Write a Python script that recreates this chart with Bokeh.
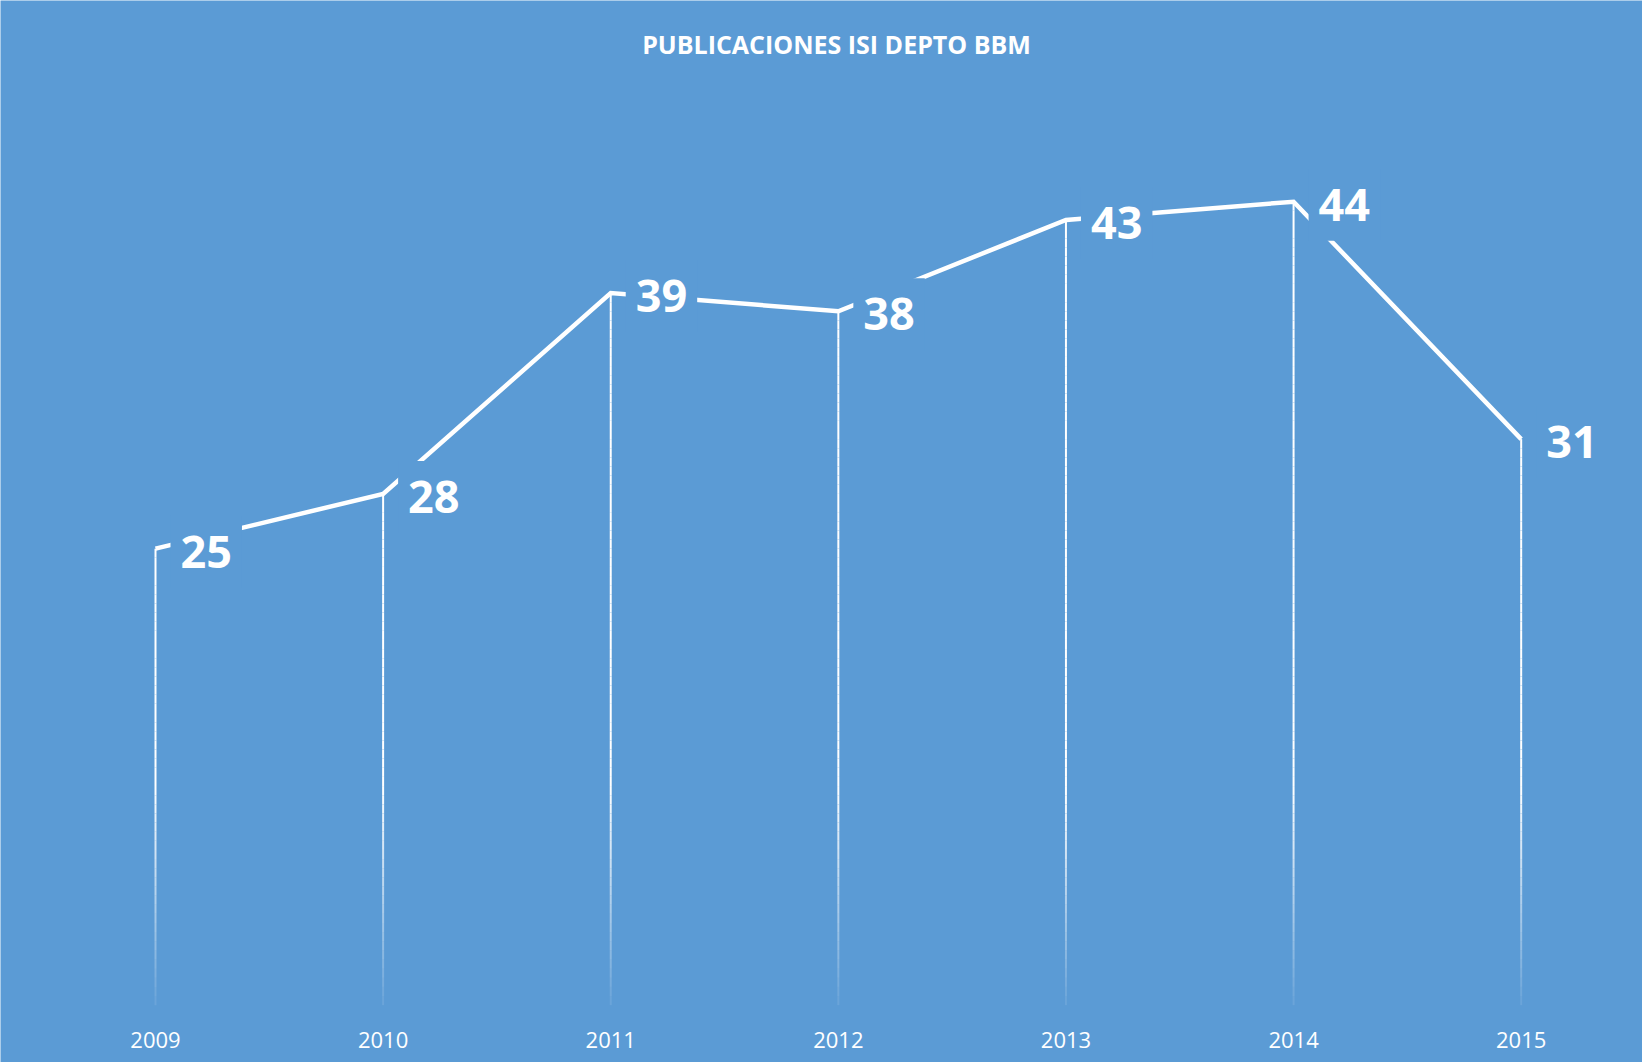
from bokeh.plotting import figure
from bokeh.models import Range1d, ColumnDataSource, Label
from bokeh.core.properties import value
from bokeh.embed import file_html
from bokeh.resources import INLINE

years = [2009, 2010, 2011, 2012, 2013, 2014, 2015]
publicaciones = [25, 28, 39, 38, 43, 44, 31]
year_labels = [str(y) for y in years]
title_text = "PUBLICACIONES ISI DEPTO BBM"

BG = "#5B9BD5"
W, H = 1642, 1062

p = figure(width=W, height=H, output_backend="svg", toolbar_location=None,
           x_range=Range1d(2008.319, 2015.533), y_range=Range1d(-3.14, 55.02),
           min_border_left=0, min_border_right=0, min_border_top=0,
           min_border_bottom=0)
p.background_fill_color = BG
p.border_fill_color = BG
p.outline_line_color = None
p.xgrid.grid_line_color = None
p.ygrid.grid_line_color = None
p.xaxis.visible = False
p.yaxis.visible = False

# category (year) labels along the bottom
p.text(x=years, y=[-1.92] * len(years), text=year_labels,
       text_font=value("Open Sans"), text_font_size="22px", text_color="white",
       text_align="center", text_baseline="middle")

# drop lines with fading toward the bottom
x0s, y0s, y1s, alphas = [], [], [], []
for yr, v in zip(years, publicaciones):
    step = 0.5
    lo = 0.0
    while lo < v:
        hi = min(v, lo + step)
        x0s.append(yr); y0s.append(lo); y1s.append(hi)
        alphas.append(max(0.08, min(1.0, 0.08 + ((lo + hi) / 2) / 13.0)))
        lo = hi
drop = ColumnDataSource(dict(x=x0s, y0=y0s, y1=y1s, a=alphas))
p.segment(x0="x", y0="y0", x1="x", y1="y1", source=drop, line_color="white",
          line_alpha="a", line_width=2)

src = ColumnDataSource(dict(x=years, y=publicaciones, t=[str(v) for v in publicaciones]))
p.line("x", "y", source=src, line_color="white", line_width=4.5, line_join="miter")

p.text("x", "y", text="t", source=src, x_offset=15, y_offset=3,
       text_font=value("Open Sans"), text_font_style="bold", text_font_size="45px",
       text_color="white", text_align="left", text_baseline="middle",
       background_fill_color=BG,
       padding=dict(left=10, right=10, top=20, bottom=20))

p.add_layout(Label(x=836, y=H - 43, x_units="screen", y_units="screen",
                   text=title_text, text_color="white", text_font="Open Sans",
                   text_font_style="bold", text_font_size="25px",
                   text_align="center", text_baseline="middle"))

open("out.html", "w").write(file_html(p, INLINE))
